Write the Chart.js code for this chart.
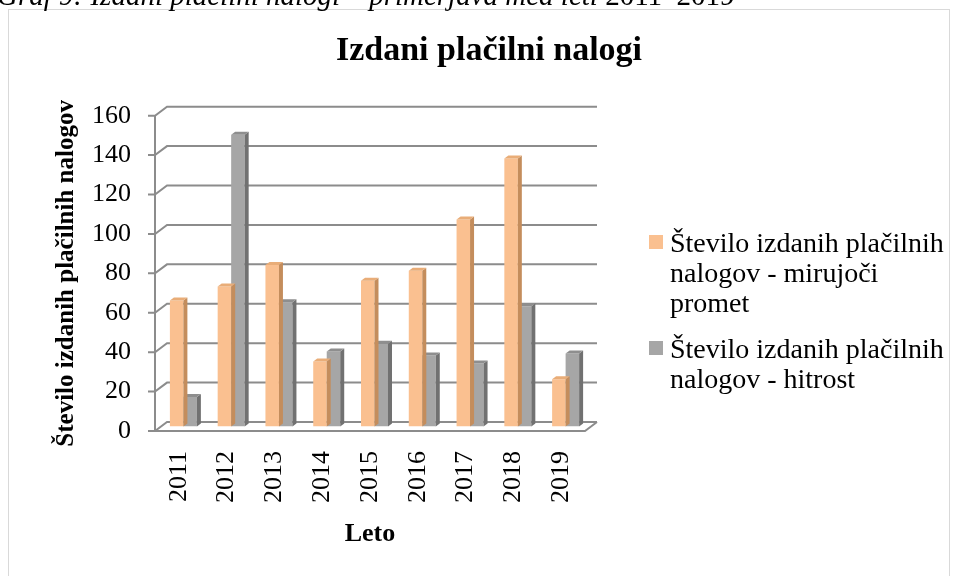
<!DOCTYPE html>
<html>
<head>
<meta charset="utf-8">
<script src="https://cdn.jsdelivr.net/npm/chart.js@4/dist/chart.umd.min.js"></script>
<style>
  body { margin: 0; background: #fff; }
  #frame { position: absolute; left: 8px; top: 9px; width: 940px; height: 620px; border: 1px solid #d9d9d9; }
  #chartBar { position: absolute; left: 0; top: 0; }
</style>
</head>
<body>
<div id="frame"></div>
<canvas id="chartBar" width="957" height="576"></canvas>
<script>
var years = ['2011', '2012', '2013', '2014', '2015', '2016', '2017', '2018', '2019'];
var mirujoci = [64, 71, 82, 33, 74, 79, 105, 136, 24];
var hitrost = [15, 148, 63, 38, 42, 36, 32, 61, 37];
var seriesNames = [
    'Število izdanih plačilnih nalogov - mirujoči promet',
    'Število izdanih plačilnih nalogov - hitrost'
];
var yTicks = [0, 20, 40, 60, 80, 100, 120, 140, 160];
var chartTitle = 'Izdani plačilni nalogi';

var serif = "'Liberation Serif', 'Times New Roman', serif";
Chart.defaults.font.family = serif;
Chart.defaults.color = '#000';

var faces = [
    { front: '#fac090', side: '#c48d5c', top: '#e9ad78' },
    { front: '#a6a6a6', side: '#717171', top: '#8e8e8e' }
];
var depth = { x: 12, y: 9 };      // back wall offset
var shift = { x: 4.5, y: -4.5 };  // bars sit in the middle
var bar3d = { x: 4, y: 3 };       // side / top face

// 3D walls, bar sides, title, legend, caption
var pseudo3d = {
    id: 'pseudo3d',
    beforeDatasetsDraw: function (chart) {
        var ctx = chart.ctx, a = chart.chartArea, y = chart.scales.y;
        ctx.save();
        ctx.strokeStyle = '#8c8c8c';
        ctx.lineWidth = 2;
        ctx.beginPath();
        yTicks.forEach(function (v) {
            var yf = y.getPixelForValue(v);
            ctx.moveTo(a.left - 7, yf);
            ctx.lineTo(a.left, yf);
            ctx.lineTo(a.left + depth.x, yf - depth.y);
            ctx.lineTo(a.right + depth.x, yf - depth.y);
        });
        var y0 = y.getPixelForValue(0);
        ctx.moveTo(a.left, y0);
        ctx.lineTo(a.right, y0);
        ctx.lineTo(a.right + depth.x, y0 - depth.y);
        ctx.moveTo(a.left, y.getPixelForValue(160));
        ctx.lineTo(a.left, y0);
        ctx.stroke();
        ctx.restore();

        ctx.save();
        ctx.translate(shift.x, shift.y);
    },
    afterDatasetDraw: function (chart, args) {
        var ctx = chart.ctx, f = faces[args.index];
        args.meta.data.forEach(function (bar) {
            var p = bar.getProps(['x', 'y', 'base', 'width'], true);
            var l = p.x - p.width / 2, r = p.x + p.width / 2;
            ctx.fillStyle = f.side;
            ctx.beginPath();
            ctx.moveTo(r, p.y);
            ctx.lineTo(r + bar3d.x, p.y - bar3d.y);
            ctx.lineTo(r + bar3d.x, p.base - bar3d.y);
            ctx.lineTo(r, p.base);
            ctx.closePath();
            ctx.fill();
            ctx.fillStyle = f.top;
            ctx.beginPath();
            ctx.moveTo(l, p.y);
            ctx.lineTo(l + bar3d.x, p.y - bar3d.y);
            ctx.lineTo(r + bar3d.x, p.y - bar3d.y);
            ctx.lineTo(r, p.y);
            ctx.closePath();
            ctx.fill();
        });
    },
    afterDatasetsDraw: function (chart) {
        chart.ctx.restore();
    },
    afterDraw: function (chart) {
        var ctx = chart.ctx;
        ctx.save();
        ctx.textBaseline = 'alphabetic';
        // title
        ctx.fillStyle = '#000';
        ctx.textAlign = 'center';
        ctx.font = 'bold 34px ' + serif;
        ctx.fillText(chartTitle, 489, 60);
        ctx.textAlign = 'left';
        // legend
        ctx.font = '28px ' + serif;
        var lineH = 30, x = 670, base = 252, maxW = 278;
        seriesNames.forEach(function (name, i) {
            var words = name.split(' '), lines = [], cur = '';
            words.forEach(function (w) {
                var t = cur ? cur + ' ' + w : w;
                if (ctx.measureText(t).width > maxW && cur) { lines.push(cur); cur = w; }
                else cur = t;
            });
            lines.push(cur);
            ctx.fillStyle = faces[i].front;
            ctx.fillRect(649, base - 17, 14, 14);
            ctx.fillStyle = '#000';
            lines.forEach(function (ln, k) { ctx.fillText(ln, x, base + k * lineH); });
            base += lines.length * lineH + 16;
        });
        // caption above the frame (cut off)
        ctx.font = 'italic 29px ' + serif;
        var cap = 'Graf 9: Izdani plačilni nalogi – primerjava med leti ';
        ctx.fillText(cap, -3, 5);
        var w = ctx.measureText(cap).width;
        ctx.font = '29px ' + serif;
        ctx.fillText('2011–2019', -3 + w, 5);
        ctx.restore();
    }
};

var barChart = new Chart(document.getElementById('chartBar'), {
    type: 'bar',
    data: {
        labels: years,
        datasets: [
            { label: seriesNames[0], data: mirujoci, backgroundColor: faces[0].front },
            { label: seriesNames[1], data: hitrost, backgroundColor: faces[1].front }
        ]
    },
    plugins: [pseudo3d],
    options: {
        responsive: false,
        animation: false,
        layout: { padding: { left: 0, top: 115.7, right: 372, bottom: 0 } },
        datasets: {
            bar: { categoryPercentage: 0.565, barPercentage: 1, borderWidth: 0 }
        },
        scales: {
            x: {
                grid: { display: false, drawTicks: false },
                border: { display: false },
                ticks: { autoSkip: false, maxRotation: 90, minRotation: 90, padding: 20, font: { size: 26 } },
                title: { display: true, text: 'Leto', font: { size: 26, weight: 'bold' }, padding: { top: 0, bottom: 26 } },
                afterFit: function (scale) { scale.height = 145; }
            },
            y: {
                min: 0,
                max: 160,
                grid: { display: false, drawTicks: false },
                border: { display: false },
                ticks: { stepSize: 20, padding: 24, font: { size: 26 } },
                title: { display: true, text: 'Število izdanih plačilnih nalogov', font: { size: 25, weight: 'bold' }, padding: { top: 52, bottom: 0 } },
                afterFit: function (scale) { scale.width = 155; }
            }
        },
        plugins: {
            legend: { display: false },
            tooltip: { enabled: false },
            title: { display: false }
        }
    }
});
</script>
</body>
</html>
